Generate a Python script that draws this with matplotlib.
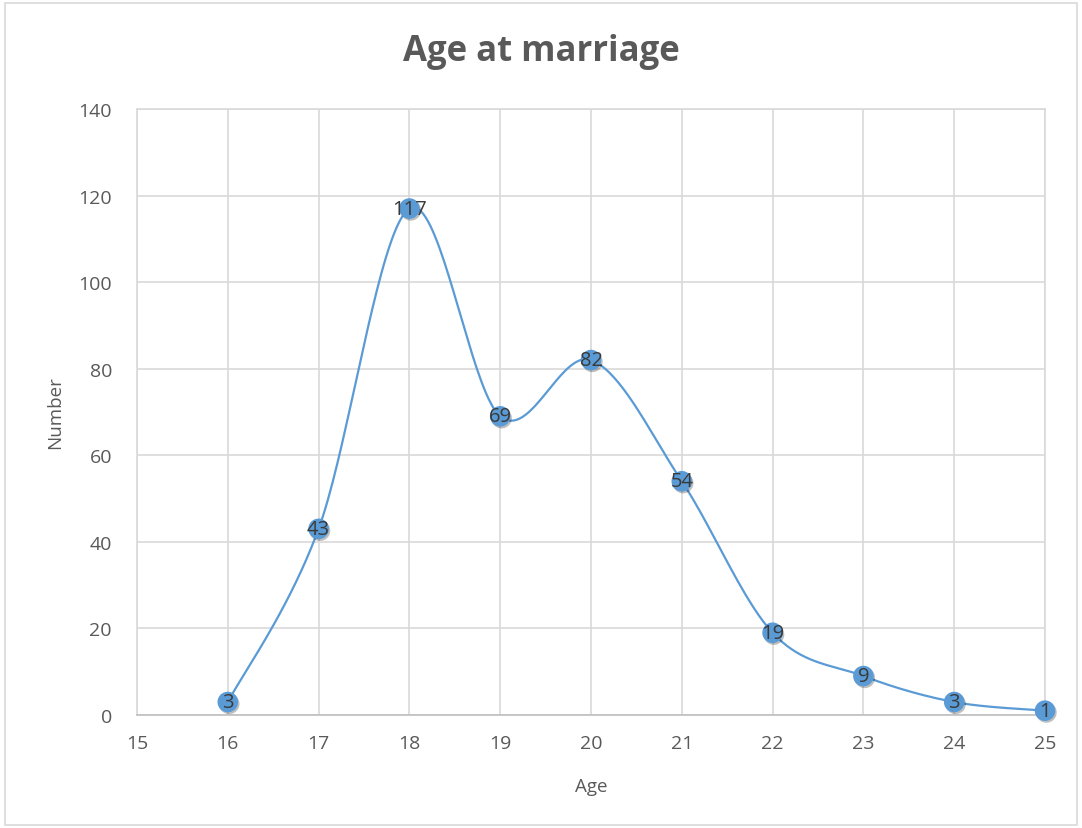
import numpy as np
import matplotlib.pyplot as plt
import matplotlib.patheffects as pe
from matplotlib.patches import Rectangle

ages = [16, 17, 18, 19, 20, 21, 22, 23, 24, 25]
counts = [3, 43, 117, 69, 82, 54, 19, 9, 3, 1]

x_ticks = list(range(15, 26))
y_ticks = list(range(0, 141, 20))

blue = '#5B9BD5'
grey_text = '#595959'
grid_grey = '#D9D9D9'

plt.rcParams['font.family'] = ['Open Sans', 'DejaVu Sans']

W, H = 1082, 829
fig = plt.figure(figsize=(W / 100, H / 100), dpi=100)
ax = fig.add_axes([137 / W, 1 - 716 / H, (1045 - 137) / W, (716 - 110) / H])
ax.set_xlim(15, 25)
ax.set_ylim(0, 140)


def smooth(xs, ys, n=40):
    # Catmull-Rom style bezier, built in screen units like spreadsheet smoothing
    sx, sy = 908 / 10.0, 606 / 140.0
    px = np.array(xs, float) * sx
    py = np.array(ys, float) * sy
    out_x, out_y = [], []
    t = np.linspace(0, 1, n)
    for i in range(len(px) - 1):
        p0 = np.array([px[max(i - 1, 0)], py[max(i - 1, 0)]])
        p1 = np.array([px[i], py[i]])
        p2 = np.array([px[i + 1], py[i + 1]])
        p3 = np.array([px[min(i + 2, len(px) - 1)], py[min(i + 2, len(px) - 1)]])
        c1 = p1 + (p2 - p0) / 6.0
        c2 = p2 - (p3 - p1) / 6.0
        b = ((1 - t) ** 3)[:, None] * p1 + (3 * (1 - t) ** 2 * t)[:, None] * c1 \
            + (3 * (1 - t) * t ** 2)[:, None] * c2 + (t ** 3)[:, None] * p2
        out_x.extend(b[:, 0] / sx)
        out_y.extend(b[:, 1] / sy)
    return out_x, out_y


cx, cy = smooth(ages, counts)
ax.plot(cx, cy, color=blue, lw=1.6, zorder=3, solid_capstyle='round', clip_on=False)
ax.scatter(ages, counts, s=220, color=blue, zorder=4, edgecolors='none', clip_on=False,
           path_effects=[pe.SimplePatchShadow(offset=(1.0, -1.3), shadow_rgbFace='#000000', alpha=0.25),
                         pe.Normal()])

for a, c in zip(ages, counts):
    ax.text(a, c, str(c), ha='center', va='center', fontsize=14.5, color='#3A3A3A',
            zorder=5, clip_on=False)

ax.set_xticks(x_ticks)
ax.set_yticks(y_ticks)
ax.tick_params(axis='x', length=0, labelsize=14, labelcolor=grey_text, pad=14)
ax.tick_params(axis='y', length=0, labelsize=14, labelcolor=grey_text, pad=18)
ax.grid(True, color=grid_grey, lw=1.2)
ax.set_axisbelow(True)
for s in ax.spines.values():
    s.set_color(grid_grey)
    s.set_linewidth(1.2)
ax.spines['bottom'].set_color('#BFBFBF')

ax.set_xlabel('Age', fontsize=13.5, color=grey_text, labelpad=18)
ax.set_ylabel('Number', fontsize=13.5, color=grey_text, labelpad=10)
fig.text(0.5, 1 - 52 / H, 'Age at marriage', ha='center', va='center',
         fontsize=25, fontweight='bold', color=grey_text)

fig.patches.append(Rectangle((5 / W, 1 - 826 / H), (1077 - 5) / W, (826 - 4) / H,
                             transform=fig.transFigure, fill=False,
                             edgecolor=grid_grey, lw=1.2))

fig.savefig('out.png', dpi=100)
